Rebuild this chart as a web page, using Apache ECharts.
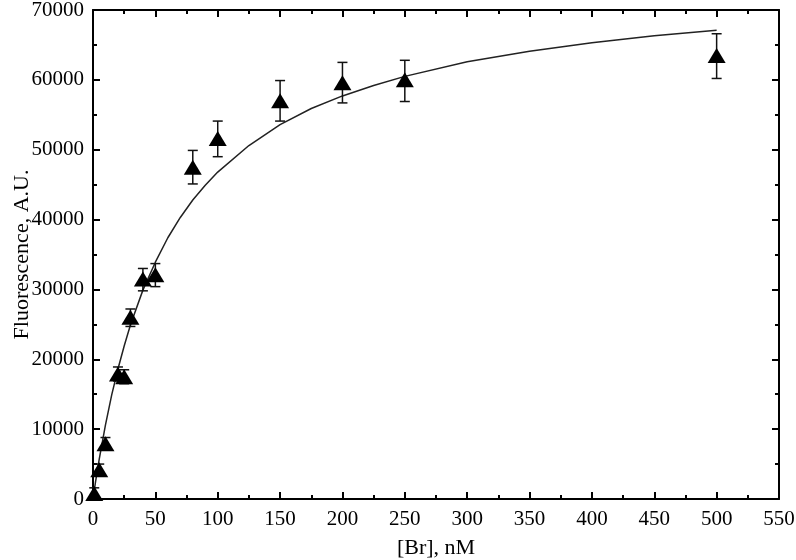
<!DOCTYPE html>
<html>
<head>
<meta charset="utf-8">
<script src="https://cdn.jsdelivr.net/npm/echarts@6/dist/echarts.min.js"></script>
<style>
  html, body { margin: 0; padding: 0; background: #fff; }
  #brChart { width: 796px; height: 560px; }
</style>
</head>
<body>
<div id="brChart"></div>
<script>
// measured points: concentration (nM), mean fluorescence and error bar ends
const concNM   = [1, 5, 10, 20, 25, 30, 40, 50, 80, 100, 150, 200, 250, 500];
const fluor    = [800, 4200, 7900, 17900, 17500, 26000, 31500, 32100, 47500, 51600, 57000, 59600, 60000, 63500];
const errLow   = [0, 3400, 7000, 16900, 16500, 24700, 29800, 30400, 45100, 49000, 54100, 56700, 56900, 60200];
const errHigh  = [1600, 5000, 8800, 18900, 18500, 27200, 33000, 33700, 49900, 54100, 59900, 62500, 62800, 66600];

// fitted curve
const fitX = [0, 2, 5, 10, 15, 20, 25, 30, 40, 50, 60, 70, 80, 90, 100, 125, 150, 175, 200, 225, 250, 300, 350, 400, 450, 500];
const fitY = [0, 2400, 5700, 10600, 14900, 18600, 21900, 24900, 29900, 33900, 37400, 40300, 42800, 44900, 46800, 50600, 53600, 55900, 57700, 59200, 60500, 62600, 64100, 65300, 66300, 67100];

const xTicks = { min: 0, max: 550, interval: 50 };
const yTicks = { min: 0, max: 70000, interval: 10000 };

const chart = echarts.init(document.getElementById('brChart'));

let points = [];
let bars = [];
for (let i = 0; i < concNM.length; i++) {
    points.push([concNM[i], fluor[i]]);
    bars.push([concNM[i], errLow[i], errHigh[i]]);
}
let curve = fitX.map((x, i) => [x, fitY[i]]);

const font = '"Liberation Serif", "DejaVu Serif", serif';
const axisBase = {
    type: 'value',
    axisLine: { show: true, onZero: false, lineStyle: { color: '#000', width: 2 } },
    axisTick: { show: true, inside: true, length: 7, lineStyle: { color: '#000', width: 2 } },
    minorTick: { show: true, splitNumber: 2, length: 4, lineStyle: { color: '#000', width: 2 } },
    splitLine: { show: false },
    minorSplitLine: { show: false }
};
const plain = v => String(v);

const option = {
    animation: false,
    backgroundColor: '#fff',
    grid: { left: 93, right: 17, top: 10, bottom: 61, outerBoundsMode: 'none', containLabel: false },
    xAxis: [
        Object.assign({}, axisBase, xTicks, {
            position: 'bottom',
            name: '[Br], nM',
            nameLocation: 'middle',
            nameGap: 38,
            nameMoveOverlap: false,
            nameTextStyle: { fontFamily: font, fontSize: 22, color: '#000' },
            axisLabel: { fontFamily: font, fontSize: 21, color: '#000', margin: 10, formatter: plain }
        }),
        Object.assign({}, axisBase, xTicks, {
            position: 'top',
            axisLabel: { show: false }
        })
    ],
    yAxis: [
        Object.assign({}, axisBase, yTicks, {
            position: 'left',
            name: 'Fluorescence, A.U.',
            nameLocation: 'middle',
            nameGap: 60,
            nameMoveOverlap: false,
            nameTextStyle: { fontFamily: font, fontSize: 22, color: '#000' },
            axisLabel: { fontFamily: font, fontSize: 21, color: '#000', margin: 9, formatter: plain }
        }),
        Object.assign({}, axisBase, yTicks, {
            position: 'right',
            axisLabel: { show: false }
        })
    ],
    series: [
        {
            name: 'fit',
            type: 'line',
            data: curve,
            smooth: false,
            showSymbol: false,
            lineStyle: { color: '#222', width: 1.5 },
            z: 2
        },
        {
            name: 'error',
            type: 'custom',
            data: bars,
            renderItem: function (params, api) {
                let x = api.value(0);
                let lo = api.coord([x, api.value(1)]);
                let hi = api.coord([x, api.value(2)]);
                let half = 5;
                let style = { stroke: '#111', lineWidth: 1.5 };
                return {
                    type: 'group',
                    children: [
                        { type: 'line', shape: { x1: lo[0], y1: lo[1], x2: hi[0], y2: hi[1] }, style: style },
                        { type: 'line', shape: { x1: lo[0] - half, y1: lo[1], x2: lo[0] + half, y2: lo[1] }, style: style },
                        { type: 'line', shape: { x1: hi[0] - half, y1: hi[1], x2: hi[0] + half, y2: hi[1] }, style: style }
                    ]
                };
            },
            z: 3
        },
        {
            name: 'data',
            type: 'scatter',
            data: points,
            symbol: 'triangle',
            symbolSize: [18, 15],
            itemStyle: { color: '#000', opacity: 1 },
            z: 4
        }
    ]
};

chart.setOption(option);

window.addEventListener('resize', function () {
    chart.resize();
});
</script>
</body>
</html>
